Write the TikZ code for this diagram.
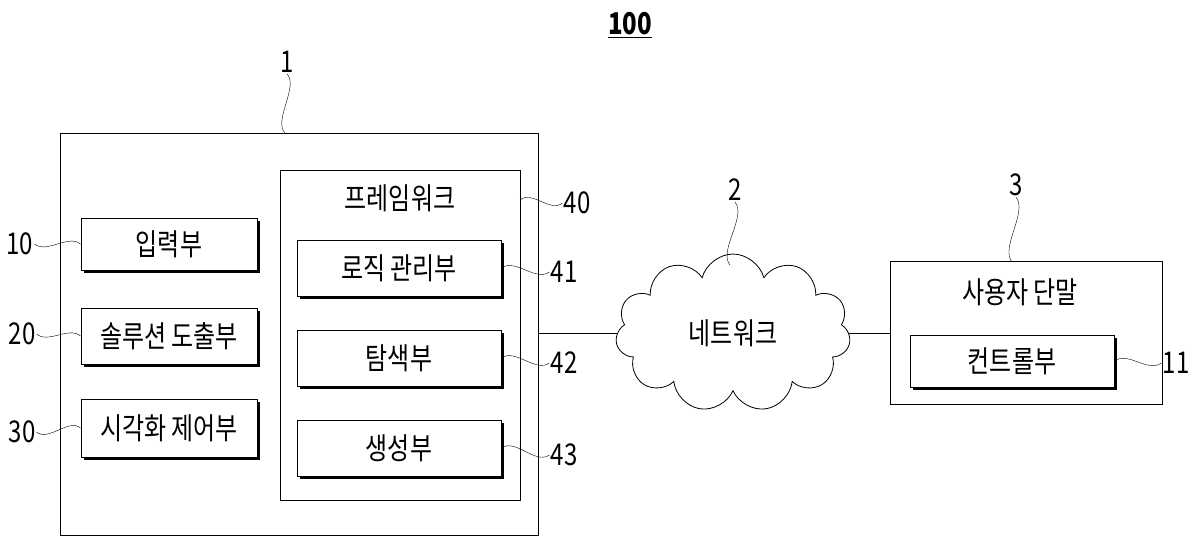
\documentclass[tikz,border=0pt]{standalone}
\usepackage{fontspec}
\usetikzlibrary{shapes.symbols,shadows}
\newfontfamily\kr{Noto Sans CJK KR}[FakeStretch=0.8]
\tikzset{
  blk/.style={draw, thick, fill=white, font=\kr\fontsize{30}{32}\selectfont,
    drop shadow={shadow xshift=3pt, shadow yshift=-3pt, opacity=1, fill=black}},
  frame/.style={draw, thick},
  num/.style={font=\kr\fontsize{30}{32}\selectfont, inner sep=1pt},
  wave/.style={thin}
}
\begin{document}
\begin{tikzpicture}[x=1pt,y=-1pt]
    \useasboundingbox (0,0) rectangle (1200,548);

    \node[font=\kr\bfseries\fontsize{30}{32}\selectfont] (title) at (630,25) {\underline{100}};

    % main device
    \node[frame, minimum width=478pt, minimum height=402pt] (dev) at (299,334) {};
    \node[frame, minimum width=240pt, minimum height=330pt] (fw) at (400,335) {};
    \node[font=\kr\fontsize{30}{32}\selectfont] (fwl) at (400,198) {프레임워크};

    \node[blk, minimum width=176pt, minimum height=52pt] (in) at (169,244) {입력부};
    \node[blk, minimum width=176pt, minimum height=56pt] (sol) at (169,336) {솔루션 도출부};
    \node[blk, minimum width=176pt, minimum height=58pt] (vis) at (169,428) {시각화 제어부};

    \node[blk, minimum width=204pt, minimum height=56pt] (logic) at (399,268) {로직 관리부};
    \node[blk, minimum width=204pt, minimum height=56pt] (srch) at (399,358) {탐색부};
    \node[blk, minimum width=204pt, minimum height=56pt] (gen) at (399,448) {생성부};

    % network
    \node[cloud, draw, thick, cloud puffs=11, minimum width=235pt, minimum height=125pt,
      font=\kr\fontsize{30}{32}\selectfont] (net) at (733,333) {네트워크};

    % user terminal
    \node[frame, minimum width=272pt, minimum height=143pt] (ut) at (1026,333) {};
    \node[font=\kr\fontsize{30}{32}\selectfont] (utl) at (1020,292) {사용자 단말};
    \node[blk, minimum width=204pt, minimum height=52pt] (ctl) at (1012,361) {컨트롤부};

    \draw[thick] (dev.east |- net.west) -- (net.west);
    \draw[thick] (net.east) -- (ut.west |- net.east);

    % reference numerals
    \node[num] (n1) at (287,62) {1};
    \node[num] (n2) at (735,190) {2};
    \node[num] (n3) at (1016,185) {3};
    \node[num] (n10) at (20,244) {10};
    \node[num] (n20) at (22,334) {20};
    \node[num] (n30) at (22,432) {30};
    \node[num] (n40) at (577,203) {40};
    \node[num] (n41) at (564,272) {41};
    \node[num] (n42) at (564,363) {42};
    \node[num] (n43) at (564,455) {43};
    \node[num] (n11) at (1176,363) {11};

    \draw[wave] (n1.south) .. controls +(12,12) and +(-12,-12) .. (285,133);
    \draw[wave] (n2.south) .. controls +(12,14) and +(-12,-14) .. (730,265);
    \draw[wave] (n3.south) .. controls +(12,14) and +(-12,-14) .. (1012,262);
    \draw[wave] (n10.east) .. controls +(12,10) and +(-12,-10) .. (in.west);
    \draw[wave] (n20.east) .. controls +(12,10) and +(-12,-10) .. (sol.west);
    \draw[wave] (n30.east) .. controls +(12,10) and +(-12,-10) .. (vis.west);
    \draw[wave] (520,200) .. controls +(12,-10) and +(-12,10) .. (n40.west);
    \draw[wave] (logic.east) .. controls +(14,-10) and +(-14,10) .. (n41.west);
    \draw[wave] (srch.east) .. controls +(14,-10) and +(-14,10) .. (n42.west);
    \draw[wave] (gen.east) .. controls +(14,-10) and +(-14,10) .. (n43.west);
    \draw[wave] (ctl.east) .. controls +(14,-10) and +(-14,10) .. (n11.west);
\end{tikzpicture}
\end{document}
